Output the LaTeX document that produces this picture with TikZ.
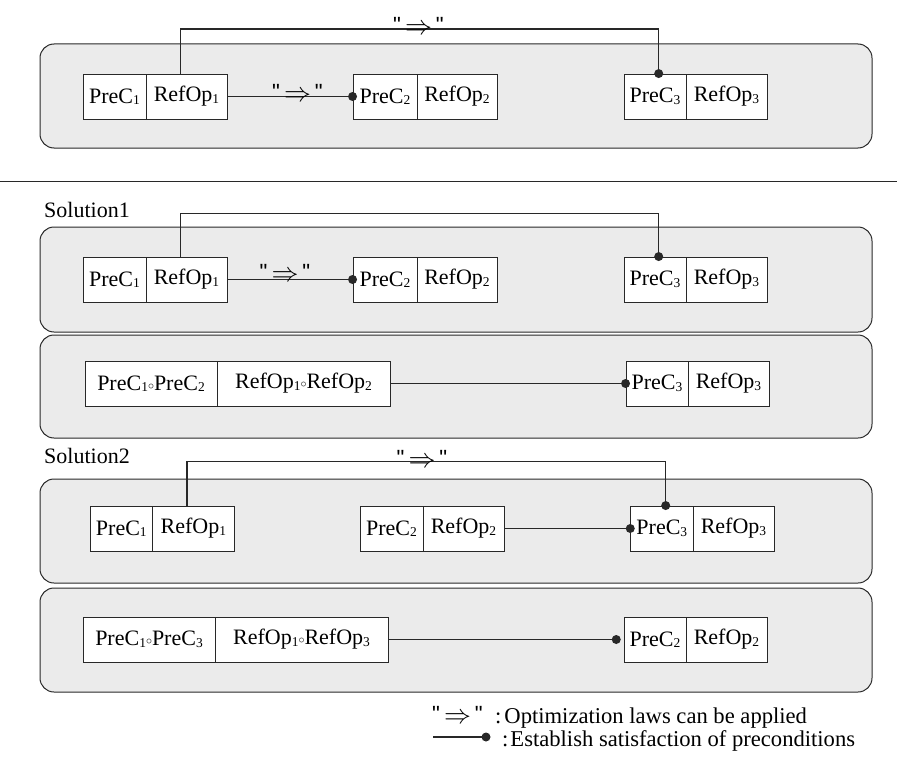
\documentclass[tikz,border=0pt]{standalone}
\usepackage{fontspec}
\setmainfont{Liberation Serif}
\newfontfamily\qfont{Liberation Sans}
\usepackage{graphicx}
\definecolor{panelfill}{RGB}{235,235,235}
\definecolor{edge}{RGB}{40,40,40}
\newcommand{\lowsub}[1]{\raisebox{-1.5pt}{\fontsize{13.5}{14}\selectfont #1}}
\newcommand{\cmp}{\raisebox{1pt}{\fontsize{12}{12}\selectfont$\circ$}}
\newcommand{\qq}{\raisebox{2pt}{\qfont\fontsize{22}{24}\selectfont "}}
\newcommand{\impl}{\qq\hspace{4pt}\scalebox{1.3}{$\Rightarrow$}\hspace{4pt}\qq}
\tikzset{
  cell/.style={draw=edge, fill=white, line width=0.9pt, minimum height=45pt, inner sep=0pt, font=\fontsize{22}{24}\selectfont},
  panel/.style={draw=edge, fill=panelfill, line width=1pt, rounded corners=14pt, minimum width=832pt, inner sep=0pt},
  conn/.style={line width=1.1pt, draw=edge},
  lab/.style={anchor=base, inner sep=0pt, font=\fontsize{22}{24}\selectfont},
  txt/.style={anchor=base west, inner sep=0pt, font=\fontsize{22}{24}\selectfont},
  legtxt/.style={anchor=base west, inner sep=0pt, font=\fontsize{22.6}{25}\selectfont},
}
\begin{document}
\begin{tikzpicture}[x=1pt,y=-1pt]
\useasboundingbox (0,0) rectangle (897,776);
% panels
\node[panel, minimum height=104pt] (P1) at (456,96) {};
\node[panel, minimum height=105pt] (P2) at (456,279.5) {};
\node[panel, minimum height=103pt] (P3) at (456,386.5) {};
\node[panel, minimum height=104pt] (P4) at (456,531) {};
\node[panel, minimum height=104pt] (P5) at (456,640) {};
% separator
\coordinate (sepL) at (0,181);
\coordinate (sepR) at (897,181);
\draw[line width=1pt, edge] (sepL) -- (sepR);
% row 1
\node[cell, minimum width=63pt] (a1) at (114.5,96.5) {PreC\lowsub{1}};
\node[cell, minimum width=81pt] (a2) at (186.5,96.5) {RefOp\lowsub{1}};
\node[cell, minimum width=64pt] (a3) at (385,96.5) {PreC\lowsub{2}};
\node[cell, minimum width=80pt] (a4) at (457,96.5) {RefOp\lowsub{2}};
\node[cell, minimum width=62pt] (a5) at (655,96.5) {PreC\lowsub{3}};
\node[cell, minimum width=81pt] (a6) at (726.5,96.5) {RefOp\lowsub{3}};
\draw[conn] ([xshift=-6pt]a2.north) -- ++(0,-44.5) -| ([xshift=3.7pt]a5.north);
\fill[edge] ([xshift=3.7pt]a5.north) circle (4.5pt);
\draw[conn] (a2.east) -- (a3.west);
\fill[edge] (a3.west) circle (4.5pt);
\node[lab] (la1) at (418.5,34.5) {\impl};
\node[lab] (la2) at (297.5,101.5) {\impl};
% solution 1
\node[txt] (s1) at (44,217.5) {Solution1};
\node[cell, minimum width=63pt] (b1) at (114.5,279.5) {PreC\lowsub{1}};
\node[cell, minimum width=81pt] (b2) at (186.5,279.5) {RefOp\lowsub{1}};
\node[cell, minimum width=64pt] (b3) at (385,279.5) {PreC\lowsub{2}};
\node[cell, minimum width=80pt] (b4) at (457,279.5) {RefOp\lowsub{2}};
\node[cell, minimum width=62pt] (b5) at (655,279.5) {PreC\lowsub{3}};
\node[cell, minimum width=81pt] (b6) at (726.5,279.5) {RefOp\lowsub{3}};
\draw[conn] ([xshift=-6pt]b2.north) -- ++(0,-43) -| ([xshift=3.7pt]b5.north);
\fill[edge] ([xshift=3.7pt]b5.north) circle (4.5pt);
\draw[conn] (b2.east) -- (b3.west);
\fill[edge] (b3.west) circle (4.5pt);
\node[lab] (lb1) at (285,281) {\impl};
\node[cell, minimum width=132pt] (c1) at (151,383.5) {PreC\lowsub{1}\cmp PreC\lowsub{2}};
\node[cell, minimum width=173pt] (c2) at (303.5,383.5) {RefOp\lowsub{1}\cmp RefOp\lowsub{2}};
\node[cell, minimum width=62pt] (c3) at (657,383.5) {PreC\lowsub{3}};
\node[cell, minimum width=81pt] (c4) at (728.5,383.5) {RefOp\lowsub{3}};
\draw[conn] (c2.east) -- (c3.west);
\fill[edge] (c3.west) circle (4.5pt);
% solution 2
\node[txt] (s2) at (44,463) {Solution2};
\node[cell, minimum width=62.7pt] (d1) at (121.35,528.5) {PreC\lowsub{1}};
\node[cell, minimum width=81.3pt] (d2) at (193.35,528.5) {RefOp\lowsub{1}};
\node[cell, minimum width=63pt] (d3) at (391.5,528.5) {PreC\lowsub{2}};
\node[cell, minimum width=81pt] (d4) at (463.5,528.5) {RefOp\lowsub{2}};
\node[cell, minimum width=62.3pt] (d5) at (661.85,528.5) {PreC\lowsub{3}};
\node[cell, minimum width=81pt] (d6) at (733.5,528.5) {RefOp\lowsub{3}};
\draw[conn] ([xshift=-6.35pt]d2.north) -- ++(0,-44.5) -| ([xshift=3.85pt]d5.north);
\fill[edge] ([xshift=3.85pt]d5.north) circle (4.5pt);
\draw[conn] (d4.east) -- (d5.west);
\fill[edge] (d5.west) circle (4.5pt);
\node[lab] (ld1) at (422,467) {\impl};
\node[cell, minimum width=132pt] (e1) at (149,639.5) {PreC\lowsub{1}\cmp PreC\lowsub{3}};
\node[cell, minimum width=173pt] (e2) at (301.5,639.5) {RefOp\lowsub{1}\cmp RefOp\lowsub{3}};
\node[cell, minimum width=62pt] (e3) at (655,639.5) {PreC\lowsub{2}};
\node[cell, minimum width=81pt] (e4) at (726.5,639.5) {RefOp\lowsub{2}};
\coordinate (edot) at ([xshift=-7.3pt]e3.west);
\draw[conn] (e2.east) -- (edot);
\fill[edge] (edot) circle (4.5pt);
% legend
\node[lab] (lg1) at (457.5,723) {\impl};
\node[legtxt] (lt1) at (495,723) {:\hspace{3pt}Optimization laws can be applied};
\coordinate (lgA) at (433,737);
\coordinate (lgB) at (486,737);
\draw[conn] (lgA) -- (lgB);
\fill[edge] (lgB) circle (4.5pt);
\node[legtxt] (lt2) at (502,746) {:\hspace{2pt}Establish satisfaction of preconditions};
\end{tikzpicture}
\end{document}
